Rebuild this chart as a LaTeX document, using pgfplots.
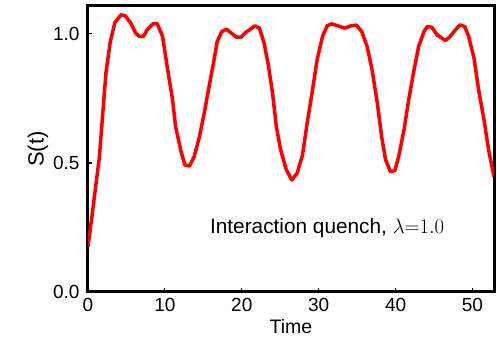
\documentclass[border=0pt]{standalone}
\usepackage{pgfplots}
\pgfplotsset{compat=1.18}
\usepackage{fontspec}
\setmainfont{Liberation Sans}
\usetikzlibrary{calc}
\begin{document}
\begin{tikzpicture}
\begin{axis}[
  scale only axis,
  width=406pt, height=286pt,
  xmin=0, xmax=52.8, ymin=0, ymax=1.108,
  xtick={0,10,20,30,40,50},
  ytick={0,0.5,1.0},
  yticklabel style={/pgf/number format/fixed,/pgf/number format/fixed zerofill,/pgf/number format/precision=1, xshift=-5pt},
  xticklabel style={yshift=-3pt},
  /pgf/number format/assume math mode=true,
  tick align=inside, xtick pos=left, ytick pos=left,
  major tick length=4pt,
  tick style={line width=1.2pt,black},
  axis line style={line width=3pt},
  ticklabel style={font=\fontsize{19}{21}\selectfont},
  xlabel={Time}, ylabel={S(t)},
  xlabel style={font=\fontsize{19.5}{21}\selectfont, yshift=-1pt},
  ylabel style={font=\fontsize{22}{24}\selectfont, yshift=-2pt},
  clip=true,
]
\addplot[red, line width=3.5pt, line join=round] coordinates {
(0,0.176) (0.5,0.29) (1.47,0.52) (2.34,0.85) (2.9,0.97) (3.5,1.044) (4.3,1.074) (4.85,1.07)
(5.6,1.04) (6.2,1.003) (6.7,0.99) (7.2,0.99) (7.7,1.016) (8.5,1.04) (9.0,1.04) (9.7,0.99)
(10.3,0.873) (11.0,0.744) (11.4,0.64) (12.1,0.544) (12.6,0.492) (13.2,0.488) (13.8,0.524)
(14.45,0.596) (15.1,0.69) (15.75,0.796) (16.4,0.9) (16.8,0.97) (17.4,1.009) (18.0,1.018)
(18.65,1.003) (19.3,0.987) (19.9,0.987) (20.5,1.005) (21.7,1.031) (22.3,1.022) (22.9,0.964)
(23.45,0.88) (24.0,0.77) (24.5,0.64) (25.06,0.55) (25.8,0.473) (26.5,0.434) (27.2,0.46)
(27.9,0.531) (28.5,0.654) (29.2,0.783) (29.8,0.9) (30.5,0.99) (31.1,1.031) (31.7,1.039)
(32.5,1.031) (33.4,1.022) (34.2,1.031) (34.9,1.034) (35.6,1.009) (36.3,0.951) (36.95,0.86)
(37.6,0.737) (38.2,0.6) (38.7,0.512) (39.35,0.466) (39.9,0.47) (40.4,0.524) (41.1,0.628)
(41.7,0.744) (42.4,0.86) (43.0,0.951) (43.7,1.009) (44.1,1.028) (44.7,1.026) (45.4,0.996)
(46.5,0.974) (47.1,0.99) (47.8,1.016) (48.4,1.035) (49.0,1.028) (49.5,0.99) (50.2,0.906)
(50.8,0.783) (51.5,0.667) (52.1,0.55) (52.8,0.447)
};
\node[font=\fontsize{20.8}{22}\selectfont] at (axis cs:31.1,0.248) {Interaction quench, $\lambda{=}1.0$};
\end{axis}
\pgfresetboundingbox
\path ($(current axis.south west)+(-88pt,-50pt)$) rectangle ($(current axis.north east)+(3pt,6pt)$);
\end{tikzpicture}
\end{document}
